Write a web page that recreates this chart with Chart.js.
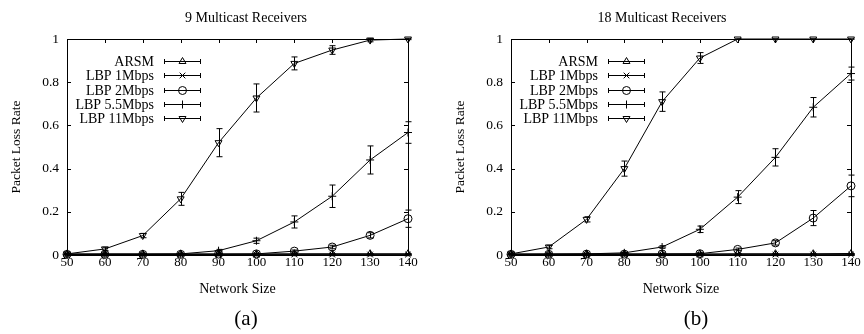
<!DOCTYPE html>
<html><head><meta charset="utf-8">
<script src="https://cdn.jsdelivr.net/npm/chart.js@4.4.0/dist/chart.umd.min.js"></script>
<style>
body{margin:0;background:#fff;width:864px;height:334px;overflow:hidden;position:relative;font-family:"Liberation Serif","Times New Roman",serif;color:#000;}
canvas{position:absolute;top:0;}
.t{position:absolute;width:240px;text-align:center;white-space:nowrap;}
</style></head><body>
<canvas id="c1" width="432" height="334" style="left:0"></canvas>
<canvas id="c2" width="432" height="334" style="left:432px"></canvas>
<div class="t" style="left:126px;top:9px;font-size:14px;line-height:18px">9 Multicast Receivers</div>
<div class="t" style="left:542px;top:9px;font-size:14px;line-height:18px">18 Multicast Receivers</div>
<div class="t" style="left:126px;top:306px;font-size:21px;line-height:25px">(a)</div>
<div class="t" style="left:576px;top:306px;font-size:21px;line-height:25px">(b)</div>
<script>
const networkSizes = [50, 60, 70, 80, 90, 100, 110, 120, 130, 140];
const seriesNames = ['ARSM', 'LBP 1Mbps', 'LBP 2Mbps', 'LBP 5.5Mbps', 'LBP 11Mbps'];
const yTickValues = [0, 0.2, 0.4, 0.6, 0.8, 1];

// 9 multicast receivers
const arsm9   = [0.005, 0.005, 0.005, 0.005, 0.005, 0.005, 0.006, 0.006, 0.006, 0.006];
const lbp1_9  = [0.002, 0.002, 0.002, 0.002, 0.002, 0.002, 0.002, 0.002, 0.002, 0.002];
const lbp2_9  = [0.003, 0.003, 0.003, 0.003, 0.004, 0.005, 0.018, 0.037, 0.091, 0.168];
const lbp55_9 = [0.003, 0.004, 0.004, 0.005, 0.02, 0.066, 0.153, 0.272, 0.44, 0.567];
const lbp11_9 = [0.005, 0.028, 0.09, 0.26, 0.52, 0.727, 0.887, 0.949, 0.995, 1.0];
const errArsm9  = [0, 0, 0, 0, 0, 0, 0, 0, 0, 0];
const errLbp1_9 = [0, 0, 0, 0, 0, 0, 0, 0, 0, 0];
const errLbp2_9 = [0, 0, 0, 0, 0.002, 0.003, 0.005, 0.008, 0.012, 0.04];
const errLbp55_9 = [0, 0, 0, 0.002, 0.006, 0.012, 0.028, 0.052, 0.065, 0.05];
const errLbp11_9 = [0.002, 0.008, 0.01, 0.03, 0.065, 0.065, 0.03, 0.02, 0.008, 0.003];

// 18 multicast receivers
const arsm18   = [0.005, 0.005, 0.005, 0.005, 0.005, 0.005, 0.006, 0.006, 0.006, 0.007];
const lbp1_18  = [0.002, 0.002, 0.002, 0.002, 0.002, 0.002, 0.002, 0.002, 0.002, 0.002];
const lbp2_18  = [0.003, 0.003, 0.004, 0.004, 0.005, 0.006, 0.026, 0.056, 0.171, 0.32];
const lbp55_18 = [0.003, 0.004, 0.005, 0.01, 0.037, 0.119, 0.268, 0.452, 0.684, 0.84];
const lbp11_18 = [0.005, 0.037, 0.165, 0.40, 0.71, 0.912, 1.0, 1.0, 1.0, 1.0];
const errArsm18  = [0, 0, 0, 0, 0, 0, 0, 0, 0, 0];
const errLbp1_18 = [0, 0, 0, 0, 0, 0, 0, 0, 0, 0];
const errLbp2_18 = [0, 0, 0, 0, 0.002, 0.004, 0.006, 0.01, 0.035, 0.05];
const errLbp55_18 = [0, 0, 0, 0.003, 0.006, 0.015, 0.03, 0.04, 0.045, 0.03];
const errLbp11_18 = [0.002, 0.008, 0.012, 0.035, 0.045, 0.025, 0, 0, 0, 0];

const pointStyles = ['triangle', 'crossRot', 'circle', 'cross', 'triangle'];
const pointRotations = [0, 0, 0, 0, 180];
const FONT = '"Liberation Serif", "Times New Roman", serif';

const framePlugin = {
  id: 'gnuFrame',
  afterDatasetsDraw(chart) {
    const {ctx, chartArea: a, scales: {x, y}} = chart;
    ctx.save();
    // error bars
    ctx.strokeStyle = '#000';
    ctx.lineWidth = 1;
    chart.data.datasets.forEach(ds => {
      ds.data.forEach((p, i) => {
        const e = ds.errors[i];
        const px = Math.round(x.getPixelForValue(p.x)) + 0.5;
        const y1 = y.getPixelForValue(p.y - e);
        const y2 = y.getPixelForValue(p.y + e);
        ctx.beginPath();
        ctx.moveTo(px, y1); ctx.lineTo(px, y2);
        ctx.moveTo(px - 3, y1); ctx.lineTo(px + 3, y1);
        ctx.moveTo(px - 3, y2); ctx.lineTo(px + 3, y2);
        ctx.stroke();
      });
    });
    // frame
    ctx.strokeRect(Math.round(a.left) + 0.5, Math.round(a.top) + 0.5,
                   Math.round(a.right - a.left), Math.round(a.bottom - a.top));
    // inward ticks
    const tl = 4;
    ctx.beginPath();
    networkSizes.forEach(v => {
      const px = Math.round(x.getPixelForValue(v)) + 0.5;
      ctx.moveTo(px, a.bottom); ctx.lineTo(px, a.bottom - tl);
      ctx.moveTo(px, a.top); ctx.lineTo(px, a.top + tl);
    });
    yTickValues.forEach(v => {
      const py = Math.round(y.getPixelForValue(v)) + 0.5;
      ctx.moveTo(a.left, py); ctx.lineTo(a.left + tl, py);
      ctx.moveTo(a.right, py); ctx.lineTo(a.right - tl, py);
    });
    ctx.stroke();
    // legend
    ctx.font = '14px ' + FONT;
    ctx.fillStyle = '#000';
    ctx.textAlign = 'right';
    ctx.textBaseline = 'middle';
    chart.data.datasets.forEach((ds, i) => {
      const ly = Math.round(a.top + 22 + i * 14.3) + 0.5;
      const tx = a.left + 87;
      const x1 = a.left + 97, x2 = a.left + 134;
      ctx.fillText(ds.label, tx, ly + 1);
      ctx.beginPath();
      ctx.moveTo(x1, ly); ctx.lineTo(x2, ly);
      ctx.moveTo(x1 + 0.5, ly - 2.5); ctx.lineTo(x1 + 0.5, ly + 2.5);
      ctx.moveTo(x2 - 0.5, ly - 2.5); ctx.lineTo(x2 - 0.5, ly + 2.5);
      ctx.stroke();
      ctx.fillStyle = 'rgba(0,0,0,0)';
      Chart.helpers.drawPoint(ctx, {pointStyle: ds.pointStyle, rotation: ds.pointRotation, radius: 4, borderWidth: 1}, (x1 + x2) / 2, ly);
      ctx.fillStyle = '#000';
    });
    ctx.restore();
  }
};

function buildChart(id, seriesVals, seriesErrs, padLeft, padRight) {
  const datasets = seriesNames.map((name, k) => ({
    label: name,
    data: networkSizes.map((nx, i) => ({x: nx, y: seriesVals[k][i]})),
    errors: seriesErrs[k],
    borderColor: '#000',
    borderWidth: 1,
    pointStyle: pointStyles[k],
    pointRotation: pointRotations[k],
    pointRadius: 4,
    pointBorderColor: '#000',
    pointBorderWidth: 1,
    pointBackgroundColor: 'rgba(0,0,0,0)',
    tension: 0,
    clip: false
  }));
  return new Chart(document.getElementById(id), {
    type: 'line',
    data: {datasets},
    plugins: [framePlugin],
    options: {
      responsive: false,
      animation: false,
      layout: {padding: {left: padLeft, right: padRight, top: 39, bottom: 32}},
      plugins: {legend: {display: false}, tooltip: {enabled: false}},
      scales: {
        x: {
          type: 'linear', min: 50, max: 140,
          afterBuildTicks: s => { s.ticks = networkSizes.map(v => ({value: v})); },
          afterFit: s => { s.height = 47; },
          grid: {display: false, drawTicks: false},
          border: {display: false},
          ticks: {color: '#000', padding: 0, maxRotation: 0, font: {family: FONT, size: 13}},
          title: {display: true, text: 'Network Size', color: '#000', padding: {top: 0, bottom: 4}, font: {family: FONT, size: 14}}
        },
        y: {
          type: 'linear', min: 0, max: 1,
          afterBuildTicks: s => { s.ticks = yTickValues.map(v => ({value: v})); },
          afterFit: s => { s.width = 67; },
          grid: {display: false, drawTicks: false},
          border: {display: false},
          ticks: {color: '#000', padding: 8, font: {family: FONT, size: 13.5}, callback: v => String(v)},
          title: {display: true, text: 'Packet Loss Rate', color: '#000', padding: {top: 8, bottom: 0}, font: {family: FONT, size: 13.5}}
        }
      }
    }
  });
}

buildChart('c1', [arsm9, lbp1_9, lbp2_9, lbp55_9, lbp11_9],
  [errArsm9, errLbp1_9, errLbp2_9, errLbp55_9, errLbp11_9], 0, 24);
buildChart('c2', [arsm18, lbp1_18, lbp2_18, lbp55_18, lbp11_18],
  [errArsm18, errLbp1_18, errLbp2_18, errLbp55_18, errLbp11_18], 12, 13);
</script>
</body></html>
